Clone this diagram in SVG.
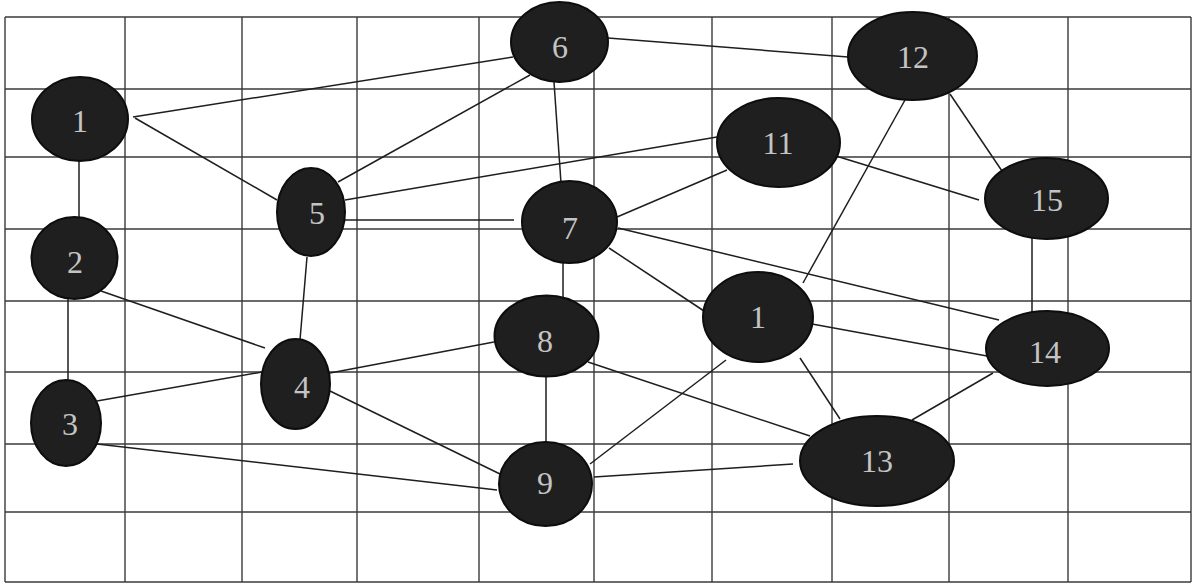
<svg xmlns="http://www.w3.org/2000/svg" width="1199" height="584" viewBox="0 0 1199 584">
<style>
.grid line{stroke:#3a3a3a;stroke-width:1.4}
.edges line{stroke:#1e1e1e;stroke-width:1.5}
.node ellipse{fill:#1f1f1f;stroke:#0d0d0d;stroke-width:2}
.node text{font-family:"Liberation Serif","Times New Roman",serif;font-size:32px;fill:#c4c4c4;text-anchor:middle}
</style>
<rect width="1199" height="584" fill="#ffffff"/>
<g class="grid" id="grid">
<line x1="5" y1="17" x2="1191" y2="17"/>
<line x1="5" y1="89" x2="1191" y2="89"/>
<line x1="5" y1="157" x2="1191" y2="157"/>
<line x1="5" y1="229" x2="1191" y2="229"/>
<line x1="5" y1="301" x2="1191" y2="301"/>
<line x1="5" y1="372" x2="1191" y2="372"/>
<line x1="5" y1="444" x2="1191" y2="444"/>
<line x1="5" y1="512" x2="1191" y2="512"/>
<line x1="5" y1="582" x2="1191" y2="582"/>
<line x1="5" y1="17" x2="5" y2="582"/>
<line x1="125" y1="17" x2="125" y2="582"/>
<line x1="242" y1="17" x2="242" y2="582"/>
<line x1="357" y1="17" x2="357" y2="582"/>
<line x1="479" y1="17" x2="479" y2="582"/>
<line x1="594" y1="17" x2="594" y2="582"/>
<line x1="712" y1="17" x2="712" y2="582"/>
<line x1="832" y1="17" x2="832" y2="582"/>
<line x1="949" y1="17" x2="949" y2="582"/>
<line x1="1068" y1="17" x2="1068" y2="582"/>
<line x1="1191" y1="17" x2="1191" y2="582"/>
</g>
<g class="edges" id="connectors">
<line x1="133" y1="117" x2="513" y2="57"/>
<line x1="135" y1="118" x2="277" y2="200"/>
<line x1="79" y1="160" x2="79" y2="218"/>
<line x1="338" y1="182" x2="530" y2="75"/>
<line x1="345" y1="200" x2="717" y2="137"/>
<line x1="345" y1="220" x2="514" y2="220"/>
<line x1="307" y1="257" x2="300" y2="340"/>
<line x1="554" y1="82" x2="561" y2="183"/>
<line x1="608" y1="38" x2="848" y2="57"/>
<line x1="617" y1="217" x2="727" y2="170"/>
<line x1="618" y1="228" x2="999" y2="320"/>
<line x1="609" y1="248" x2="704" y2="311"/>
<line x1="563" y1="263" x2="563" y2="297"/>
<line x1="546" y1="377" x2="546" y2="442"/>
<line x1="494" y1="342" x2="330" y2="373"/>
<line x1="588" y1="362" x2="810" y2="436"/>
<line x1="590" y1="464" x2="726" y2="360"/>
<line x1="594" y1="477" x2="793" y2="464"/>
<line x1="500" y1="474" x2="330" y2="391"/>
<line x1="497" y1="490" x2="97" y2="444"/>
<line x1="97" y1="401" x2="262" y2="372"/>
<line x1="101" y1="291" x2="265" y2="348"/>
<line x1="68" y1="299" x2="68" y2="382"/>
<line x1="803" y1="283" x2="905" y2="100"/>
<line x1="812" y1="324" x2="987" y2="356"/>
<line x1="800" y1="358" x2="840" y2="419"/>
<line x1="912" y1="420" x2="993" y2="373"/>
<line x1="836" y1="156" x2="979" y2="200"/>
<line x1="950" y1="94" x2="1002" y2="171"/>
<line x1="1032" y1="238" x2="1032" y2="312"/>
</g>
<g class="node" id="node1"><ellipse cx="80" cy="119" rx="48" ry="42"/><text x="80" y="132">1</text></g>
<g class="node" id="node2"><ellipse cx="74.5" cy="258" rx="43" ry="41"/><text x="75" y="273">2</text></g>
<g class="node" id="node3"><ellipse cx="66" cy="423" rx="35" ry="43"/><text x="70" y="435">3</text></g>
<g class="node" id="node4"><ellipse cx="295.5" cy="384" rx="34.5" ry="45"/><text x="302" y="398">4</text></g>
<g class="node" id="node5"><ellipse cx="311" cy="212" rx="34" ry="44"/><text x="317" y="224">5</text></g>
<g class="node" id="node6"><ellipse cx="559.5" cy="42" rx="48.5" ry="40"/><text x="560" y="58">6</text></g>
<g class="node" id="node7"><ellipse cx="569.5" cy="222" rx="47.5" ry="41"/><text x="570" y="239">7</text></g>
<g class="node" id="node8"><ellipse cx="546.5" cy="336" rx="52" ry="40.5"/><text x="545" y="352">8</text></g>
<g class="node" id="node9"><ellipse cx="545.5" cy="484" rx="46.5" ry="42"/><text x="545" y="494">9</text></g>
<g class="node" id="node10"><ellipse cx="758" cy="317" rx="55" ry="45"/><text x="758" y="328">1</text></g>
<g class="node" id="node11"><ellipse cx="778.5" cy="142.5" rx="61.5" ry="44.5"/><text x="778" y="154">11</text></g>
<g class="node" id="node12"><ellipse cx="912.5" cy="56" rx="64.5" ry="44"/><text x="913" y="68">12</text></g>
<g class="node" id="node13"><ellipse cx="877" cy="461" rx="77" ry="45"/><text x="877" y="472">13</text></g>
<g class="node" id="node14"><ellipse cx="1047.5" cy="348.5" rx="61.5" ry="37.5"/><text x="1045" y="363">14</text></g>
<g class="node" id="node15"><ellipse cx="1046.5" cy="198.5" rx="61.5" ry="40.5"/><text x="1047" y="211">15</text></g>
</svg>
